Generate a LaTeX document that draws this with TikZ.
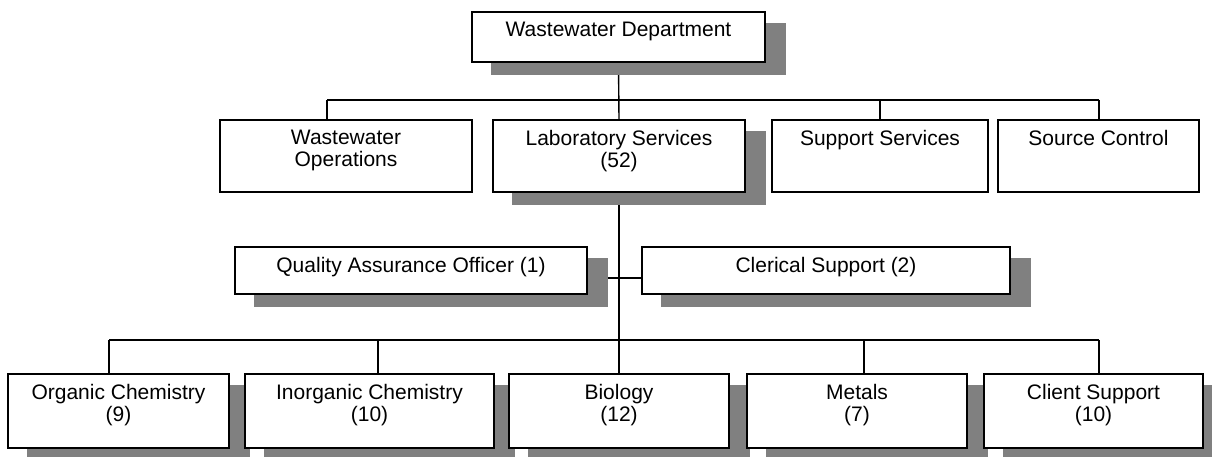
\documentclass[tikz,border=0pt]{standalone}
\usepackage{fontspec}
\setmainfont{Liberation Sans}
\pgfdeclarelayer{lines}
\pgfdeclarelayer{shadows}
\pgfsetlayers{lines,shadows,main}
\definecolor{shadowgray}{HTML}{808080}

\tikzset{
  unitbox/.style={draw=black, line width=1.4pt, fill=white, inner sep=0pt, rectangle},
  unitlabel/.style={anchor=north, inner sep=0pt, align=center,
    font=\fontsize{21pt}{22pt}\selectfont},
  link/.style={draw=black, line width=1.4pt},
  boxshadow/.style={fill=shadowgray}
}

% \orgunit{name}{left}{top}{right}{bottom}{label}
\newcommand{\orgunit}[6]{%
  \node[unitbox, minimum width={(#4-#2)*1pt}, minimum height={(#5-#3)*1pt}]
    (#1) at ({(#2+#4)/2},{(#3+#5)/2}) {};
  \node[unitlabel] (#1-text) at ([yshift=-11pt]#1.north) {#6};
}

\begin{document}
\begin{tikzpicture}[x=1pt, y=-1pt]
  \useasboundingbox (0,0) rectangle (1212,457);
  \clip (0,0) rectangle (1212,457);

  % department head
  \orgunit{dept}{472}{12}{765}{62}{Wastewater Department}

  % divisions
  \orgunit{ops}{220}{120}{472}{192}{Wastewater\\Operations}
  \orgunit{lab}{493}{120}{745}{192}{Laboratory Services\\(52)}
  \orgunit{sup}{772}{120}{988}{192}{Support Services}
  \orgunit{src}{998}{120}{1199}{192}{Source Control}

  % staff positions
  \orgunit{qa}{235}{247}{587}{294}{Quality Assurance Officer (1)}
  \orgunit{cler}{642}{247}{1010}{294}{Clerical Support (2)}

  % laboratory sections
  \orgunit{org}{8}{374}{229}{448}{Organic Chemistry\\(9)}
  \orgunit{inorg}{245}{374}{494}{448}{Inorganic Chemistry\\(10)}
  \orgunit{bio}{509}{374}{729}{448}{Biology\\(12)}
  \orgunit{met}{747}{374}{967}{448}{Metals\\(7)}
  \orgunit{cli}{984}{374}{1203}{448}{Client Support\\(10)}

  % drop shadows behind the boxes
  \begin{pgfonlayer}{shadows}
    \foreach \n in {dept,lab,qa,cler,org,inorg,bio,met,cli}
      \fill[boxshadow] ([shift={(20pt,-12pt)}]\n.south west)
        rectangle ([shift={(20pt,-12pt)}]\n.north east);
  \end{pgfonlayer}

  % connectors
  \coordinate (topL) at (327,100);
  \coordinate (topR) at (1099,100);
  \coordinate (botL) at (109,340);
  \coordinate (botI) at (378,340);
  \coordinate (botM) at (864,340);
  \coordinate (botR) at (1099,340);
  \begin{pgfonlayer}{lines}
    \draw[link] (dept.south) -- (lab.north);
    \draw[link] (topL) -- (topR);
    \draw[link] (topL) -- (topL |- ops.north);
    \draw[link] (sup.north |- topL) -- (sup.north);
    \draw[link] (topR) -- (topR |- src.north);
    \draw[link] (lab.south) -- (bio.north);
    \draw[link] (qa.east |- 0,278) -- (cler.west |- 0,278);
    \draw[link] (botL) -- (botR);
    \draw[link] (botL) -- (botL |- org.north);
    \draw[link] (botI) -- (botI |- inorg.north);
    \draw[link] (botM) -- (botM |- met.north);
    \draw[link] (botR) -- (botR |- cli.north);
  \end{pgfonlayer}
\end{tikzpicture}
\end{document}
